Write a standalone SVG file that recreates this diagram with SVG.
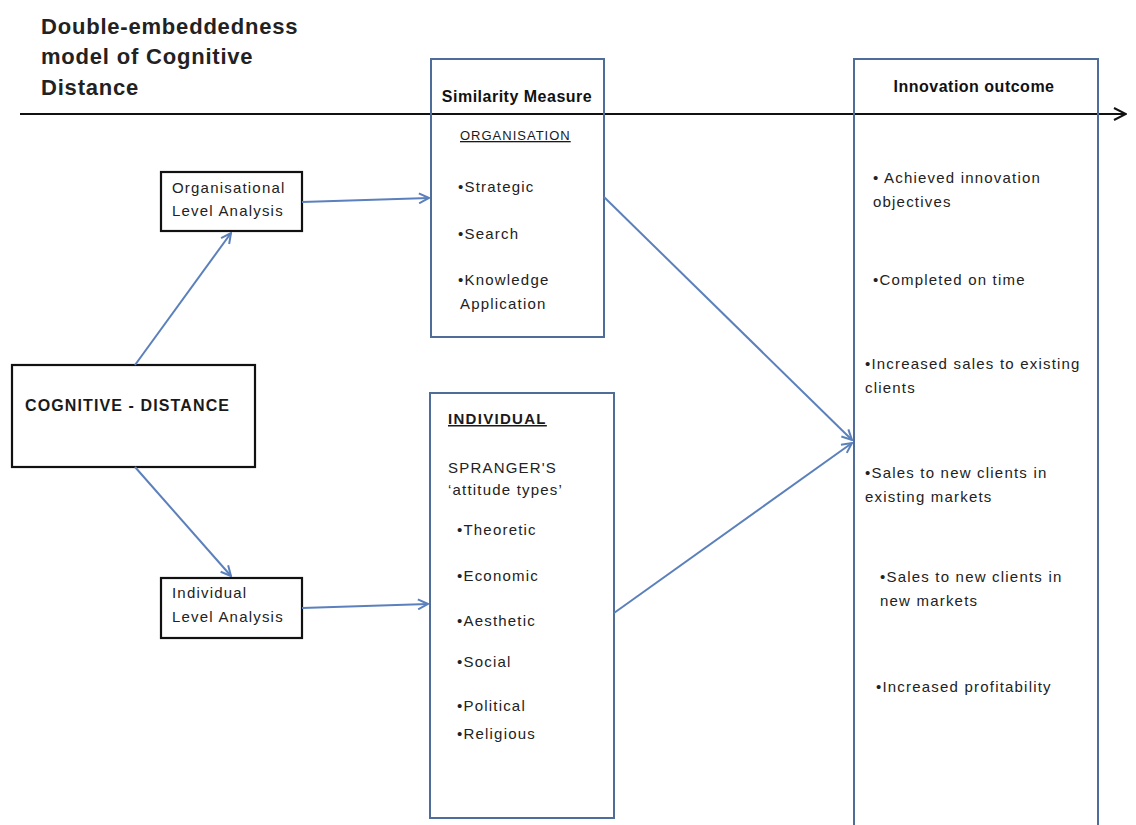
<svg xmlns="http://www.w3.org/2000/svg" width="1136" height="825" viewBox="0 0 1136 825">
<defs>
<style>
text{font-family:"Liberation Sans",Arial,sans-serif;fill:#1a1a1a}
.t{font-size:22px;font-weight:bold;fill:#222;letter-spacing:0.8px}
.h{font-size:16px;font-weight:bold;fill:#111;letter-spacing:0.5px}
.b{font-size:15px;fill:#222;letter-spacing:1.2px}
.u{text-decoration:underline}
.bx{fill:none;stroke:#4f6d99;stroke-width:2}
.kb{fill:#fff;stroke:#111;stroke-width:2.2}
.c{stroke:#5b80bb;stroke-width:2;fill:none;marker-end:url(#ah)}
</style>
<marker id="ah" viewBox="0 0 12 12" refX="11" refY="6" markerWidth="12" markerHeight="12" markerUnits="userSpaceOnUse" orient="auto">
<path d="M1,1 L11,6 L1,11" fill="none" stroke="#5b80bb" stroke-width="2"/>
</marker>
<marker id="bh" viewBox="0 0 14 14" refX="13" refY="7" markerWidth="14" markerHeight="14" markerUnits="userSpaceOnUse" orient="auto">
<path d="M1,1 L13,7 L1,13" fill="none" stroke="#111" stroke-width="2"/>
</marker>
</defs>
<rect width="1136" height="825" fill="#fff"/>
<g id="title">
<text class="t" x="41" y="34">Double-embeddedness</text>
<text class="t" x="41" y="64">model of Cognitive</text>
<text class="t" x="41" y="95">Distance</text>
</g>
<g id="axis">
<line x1="20" y1="114" x2="1126" y2="114" stroke="#111" stroke-width="2" marker-end="url(#bh)"/>
</g>
<g id="cognitive">
<rect class="kb" x="12" y="365" width="243" height="102"/>
<text x="25" y="411" font-size="16" font-weight="bold" textLength="204" style="fill:#1a1a1a">COGNITIVE  - DISTANCE</text>
</g>
<g id="org-level">
<rect class="kb" x="161" y="172" width="141" height="59"/>
<text class="b" x="172" y="193">Organisational</text>
<text class="b" x="172" y="216">Level Analysis</text>
</g>
<g id="ind-level">
<rect class="kb" x="161" y="578" width="141" height="60"/>
<text class="b" x="172" y="598">Individual</text>
<text class="b" x="172" y="622">Level Analysis</text>
</g>
<g id="similarity">
<rect class="bx" x="431" y="59" width="173" height="278"/>
<text class="h" x="517" y="102" text-anchor="middle">Similarity Measure</text>
<text class="u" x="460" y="140" font-size="13" letter-spacing="1">ORGANISATION</text>
<text class="b" x="458" y="192">•Strategic</text>
<text class="b" x="458" y="239">•Search</text>
<text class="b" x="458" y="285">•Knowledge</text>
<text class="b" x="460" y="309">Application</text>
</g>
<g id="individual">
<rect class="bx" x="430" y="393" width="184" height="425"/>
<text class="u" x="448" y="424" font-size="15" font-weight="bold" letter-spacing="1.3">INDIVIDUAL</text>
<text class="b" x="448" y="473">SPRANGER'S</text>
<text class="b" x="448" y="495">‘attitude types’</text>
<text class="b" x="457" y="535">•Theoretic</text>
<text class="b" x="457" y="581">•Economic</text>
<text class="b" x="457" y="626">•Aesthetic</text>
<text class="b" x="457" y="667">•Social</text>
<text class="b" x="457" y="711">•Political</text>
<text class="b" x="457" y="739">•Religious</text>
</g>
<g id="innovation">
<rect class="bx" x="854" y="59" width="244" height="780"/>
<text class="h" x="974" y="92" text-anchor="middle">Innovation outcome</text>
<text class="b" x="873" y="183">• Achieved innovation</text>
<text class="b" x="873" y="207">objectives</text>
<text class="b" x="873" y="285">•Completed on time</text>
<text class="b" x="865" y="369">•Increased sales to existing</text>
<text class="b" x="865" y="393">clients</text>
<text class="b" x="865" y="478">•Sales to new clients in</text>
<text class="b" x="865" y="502">existing markets</text>
<text class="b" x="880" y="582">•Sales to new clients in</text>
<text class="b" x="880" y="606">new markets</text>
<text class="b" x="876" y="692">•Increased profitability</text>
</g>
<g id="connectors">
<line class="c" x1="135" y1="365" x2="231" y2="233"/>
<line class="c" x1="135" y1="467" x2="231" y2="576"/>
<line class="c" x1="302" y1="202" x2="429" y2="198"/>
<line class="c" x1="302" y1="608" x2="428" y2="604"/>
<line class="c" x1="604" y1="197" x2="852" y2="440"/>
<line class="c" x1="614" y1="613" x2="852" y2="443"/>
</g>
</svg>
